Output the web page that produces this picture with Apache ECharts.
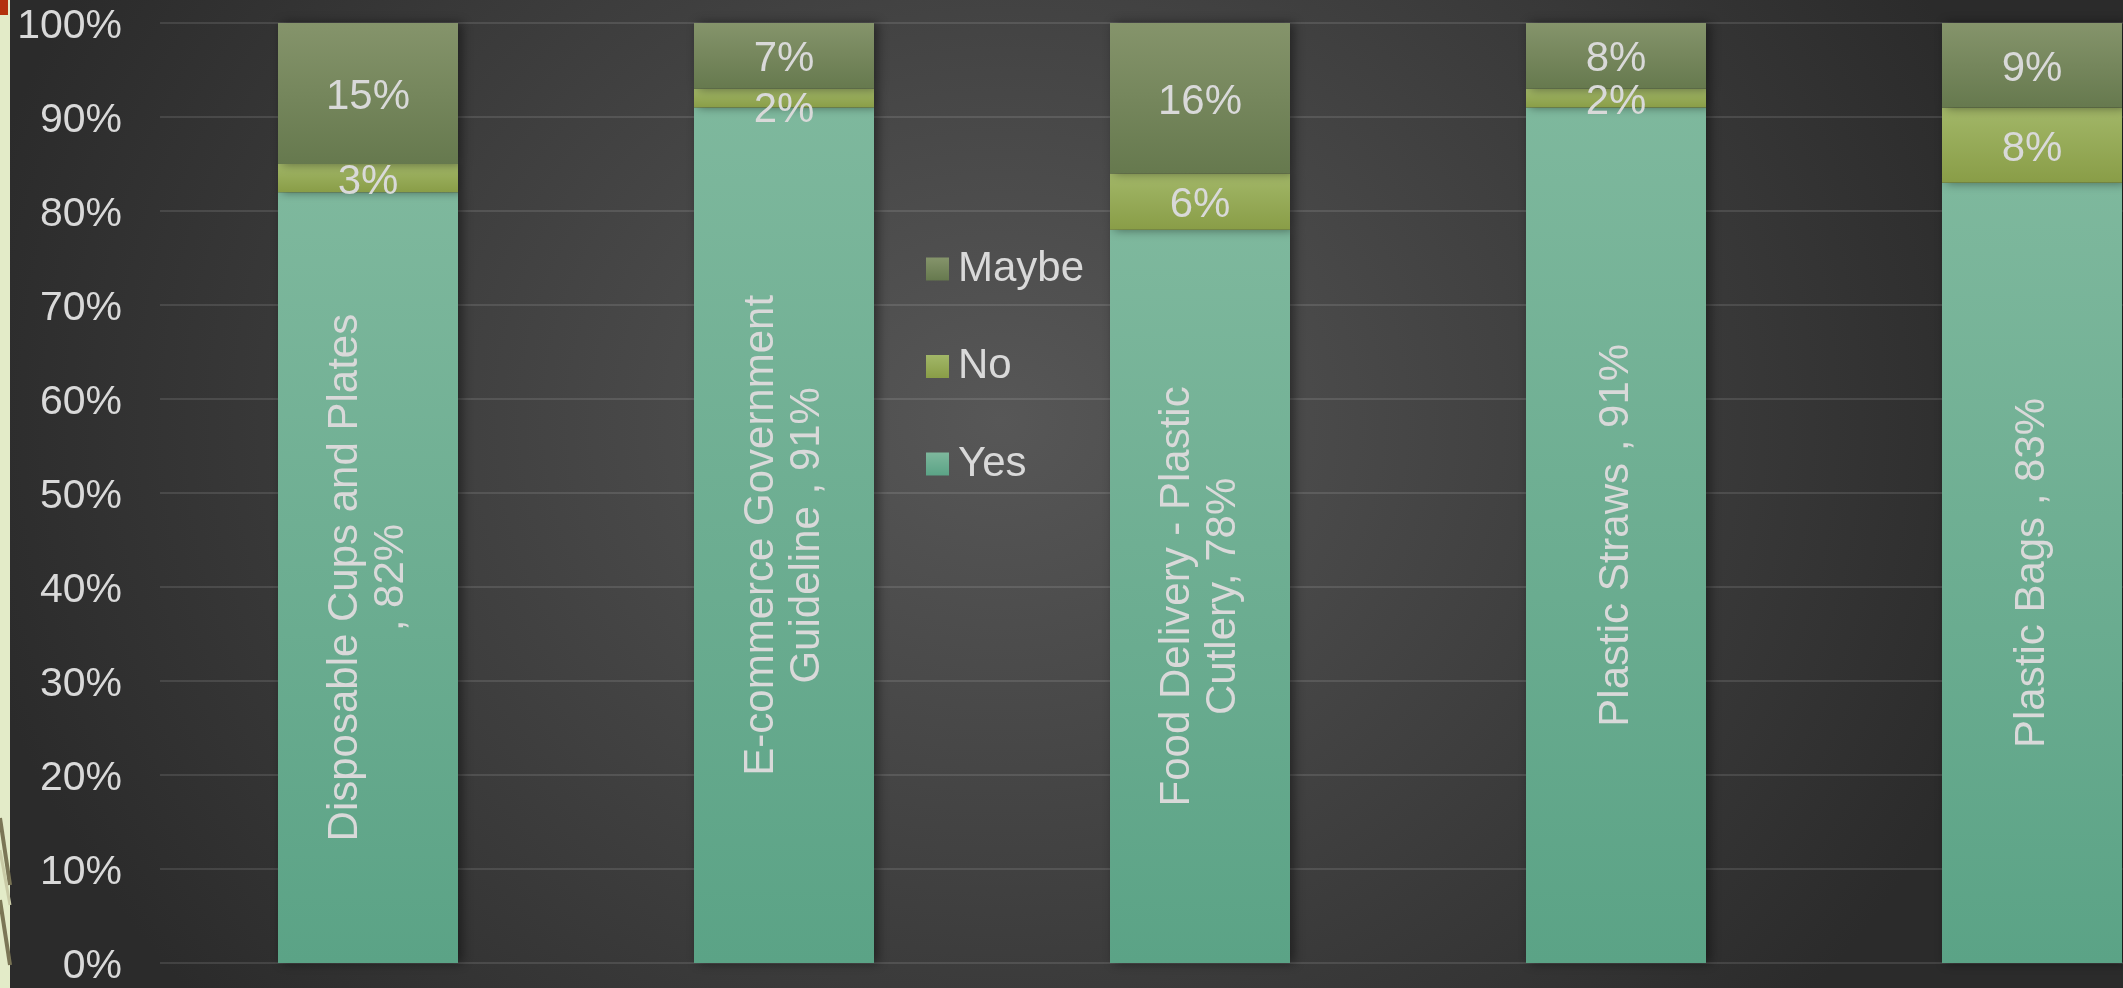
<!DOCTYPE html>
<html>
<head>
<meta charset="utf-8">
<script src="https://cdn.jsdelivr.net/npm/echarts@6/dist/echarts.min.js"></script>
<style>
  html, body { margin: 0; padding: 0; width: 2123px; height: 988px; overflow: hidden; }
  body {
    background: radial-gradient(ellipse 1050px 900px at 1000px 420px, #575757 0%, #2b2b2b 100%);
  }
  #chart { width: 2123px; height: 988px; }
</style>
</head>
<body>
<div id="chart"></div>
<script>
// Survey: support for banning single-use plastic items
const categories = [
  'Disposable Cups and Plates',
  'E-commerce Government Guideline',
  'Food Delivery - Plastic Cutlery',
  'Plastic Straws',
  'Plastic Bags'
];
// how the category name wraps inside the rotated "Yes" label
const yesLabelNames = [
  'Disposable Cups and Plates\n',
  'E-commerce Government\nGuideline ',
  'Food Delivery - Plastic\nCutlery',
  'Plastic Straws ',
  'Plastic Bags '
];
const yesValues = [82, 91, 78, 91, 83];
const noValues = [3, 2, 6, 2, 8];
const maybeValues = [15, 7, 16, 8, 9];
const yTicks = [0, 10, 20, 30, 40, 50, 60, 70, 80, 90, 100];

const textColor = '#d9d9d9';
const font = 'Liberation Sans, Arial, sans-serif';

function grad(top, bottom) {
  return new echarts.graphic.LinearGradient(0, 0, 0, 1, [
    { offset: 0, color: top },
    { offset: 1, color: bottom }
  ]);
}

const barShadow = {
  shadowColor: 'rgba(0,0,0,0.45)',
  shadowBlur: 10,
  shadowOffsetX: 4,
  shadowOffsetY: 0
};

// value labels sit a touch lower than the geometric centre
const valueLabel = {
  show: true,
  position: 'inside',
  color: textColor,
  fontSize: 42,
  fontFamily: font,
  offset: [0, 4],
  formatter: '{c}%'
};

const chart = echarts.init(document.getElementById('chart'), null, { renderer: 'canvas' });

chart.setOption({
  backgroundColor: 'transparent',
  animation: false,
  textStyle: { fontFamily: font },
  grid: {
    left: 160, top: 23, width: 2080, height: 940,
    containLabel: false, outerBoundsMode: 'none'
  },
  legend: {
    data: ['Maybe', 'No', 'Yes'],
    orient: 'vertical',
    left: 921,
    top: 241,
    icon: 'rect',
    itemWidth: 23,
    itemHeight: 23,
    itemGap: 51.5,
    selectedMode: false,
    textStyle: { color: textColor, fontSize: 42, fontFamily: font, lineHeight: 46, padding: [0, 0, 0, 4] }
  },
  xAxis: {
    type: 'category',
    data: categories,
    axisLine: { show: false },
    axisTick: { show: false },
    axisLabel: { show: false },
    splitLine: { show: false }
  },
  yAxis: {
    type: 'value',
    min: yTicks[0],
    max: yTicks[yTicks.length - 1],
    interval: 10,
    axisLine: { show: false },
    axisTick: { show: false },
    axisLabel: {
      formatter: v => '{t|' + v + '%}',
      margin: 38,
      rich: {
        t: { color: textColor, fontSize: 41, fontFamily: font, padding: [7, 0, 0, 0] }
      }
    },
    splitLine: { lineStyle: { color: 'rgba(255,255,255,0.11)', width: 2 } }
  },
  graphic: [
    { type: 'rect', left: 0, top: 0, shape: { width: 10, height: 988 }, style: { fill: '#e3ebc8' }, z: 0 },
    { type: 'rect', left: 0, top: 0, shape: { width: 8, height: 15 }, style: { fill: '#b3310d' }, z: 1 },
    { type: 'polyline', shape: { points: [[0, 818], [10, 885]] }, style: { stroke: '#7b7656', lineWidth: 4 }, z: 1 },
    { type: 'polyline', shape: { points: [[0, 850], [10, 905]] }, style: { stroke: '#c9caa6', lineWidth: 3 }, z: 1 },
    { type: 'polyline', shape: { points: [[0, 900], [10, 965]] }, style: { stroke: '#7b7656', lineWidth: 4 }, z: 1 }
  ],
  series: [
    {
      name: 'Yes',
      type: 'bar',
      stack: 'total',
      barWidth: 180,
      data: yesValues,
      itemStyle: Object.assign({ color: grad('#7eb89d', '#5ba386') }, barShadow),
      label: {
        show: true,
        position: 'inside',
        rotate: 90,
        color: textColor,
        fontSize: 42,
        lineHeight: 46,
        fontFamily: font,
        align: 'center',
        formatter: p => yesLabelNames[p.dataIndex] + ', ' + p.value + '%'
      }
    },
    {
      name: 'No',
      type: 'bar',
      stack: 'total',
      barWidth: 180,
      // the thin second segment's label is nudged down, clear of the one above
      data: noValues.map((v, i) => (i === 1 ? { value: v, label: { offset: [0, 12] } } : v)),
      itemStyle: Object.assign({ color: grad('#a2b768', '#899d47') }, barShadow),
      label: valueLabel
    },
    {
      name: 'Maybe',
      type: 'bar',
      stack: 'total',
      barWidth: 180,
      data: maybeValues,
      itemStyle: Object.assign({ color: grad('#85946b', '#66794e') }, barShadow),
      label: valueLabel
    }
  ]
});
</script>
</body>
</html>
